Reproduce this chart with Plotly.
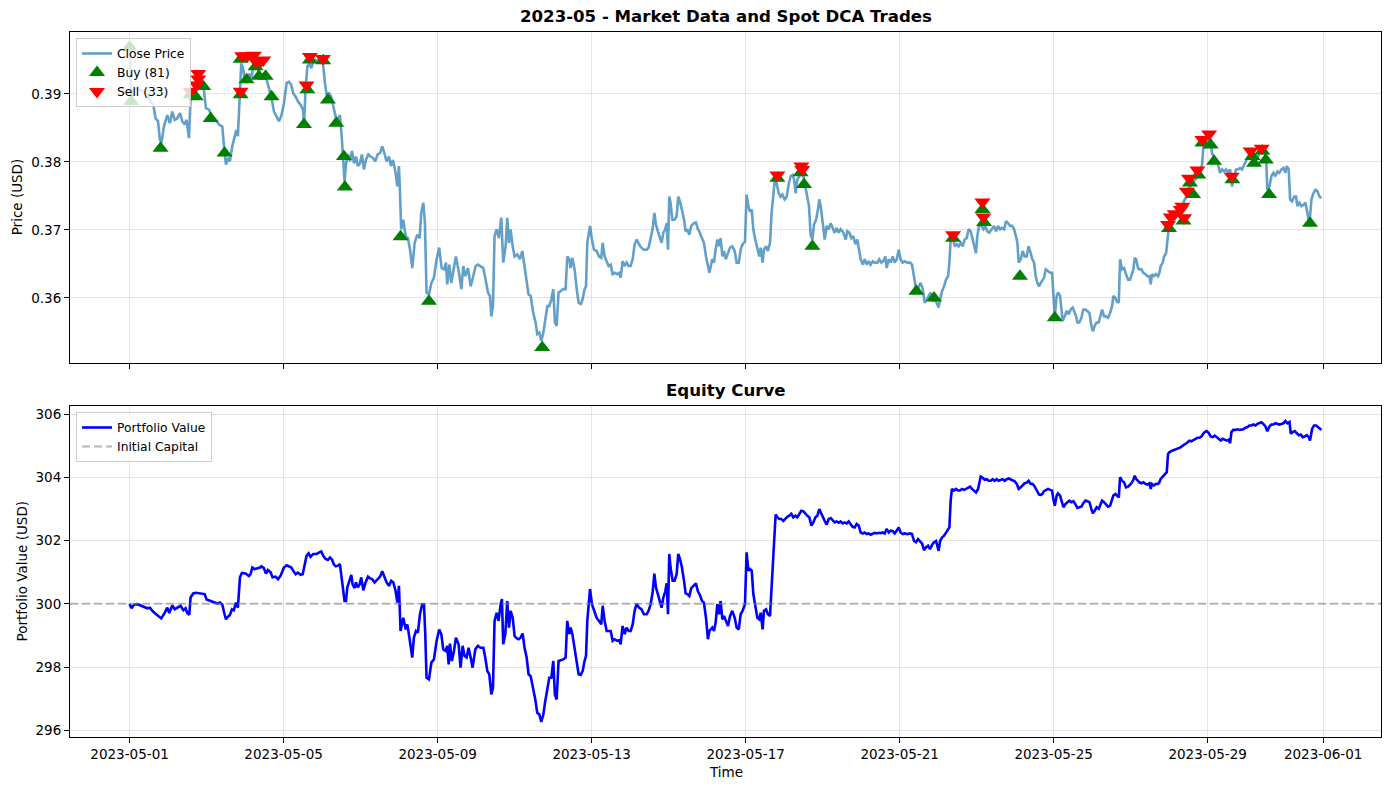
import pandas as pd
import plotly.graph_objects as go

START = pd.Timestamp("2023-05-01 00:00")

# ---- Close price (hours since start, USD) ----
PRICE_HOURS = [
    0, 1.2, 2.7, 4.8, 7.9, 11.0, 13.1, 14.8, 16.2, 17.7,
    18.9, 19.9, 21.4, 23.5, 25.1, 26.6, 28.1, 29.7, 31.4, 32.8,
    34.3, 35.5, 37.0, 38.0, 39.3, 40.5, 42.2, 44.3, 46.3, 47.6,
    49.5, 51.5, 53.6, 55.7, 57.8, 59.2, 60.1, 61.3, 62.5, 64.0,
    65.0, 66.5, 67.5, 68.6, 69.6, 70.7, 71.7, 73.0, 74.4, 75.9,
    77.5, 79.0, 80.2, 81.7, 83.7, 85.4, 86.9, 88.5, 90.0, 91.4,
    93.1, 94.5, 96.2, 97.9, 99.3, 100.8, 102.0, 103.5, 104.9, 106.6,
    108.1, 108.7, 109.7, 110.8, 112.0, 113.3, 114.5, 115.9, 117.4, 119.1,
    120.5, 121.8, 122.8, 124.3, 125.7, 127.0, 128.4, 129.9, 131.1, 132.2,
    133.2, 134.0, 134.9, 136.1, 137.4, 138.6, 139.9, 141.1, 142.3, 143.6,
    144.8, 146.1, 147.3, 148.8, 150.2, 151.7, 153.1, 154.6, 156.1, 157.5,
    158.8, 160.2, 161.7, 162.9, 164.2,
    165.8, 166.9, 167.9, 168.5, 169.3, 170.6, 172.1, 173.5, 174.8, 176.2,
    177.7, 179.3, 180.8, 181.8, 183.1, 184.1, 185.1, 186.6, 188.1, 189.7,
    191.4, 193.0, 194.5, 196.0, 197.2, 198.0, 199.3, 200.5, 201.8, 203.4,
    205.3, 206.8, 208.0, 209.2, 210.9, 212.6, 214.2, 215.7, 217.1, 218.8,
    220.5, 221.9, 223.4, 224.6, 225.5, 226.5, 227.5, 228.8, 230.2, 231.7,
    232.9, 234.4, 235.4, 236.5, 237.5, 238.8, 240.0, 241.7, 243.3, 244.8,
    246.2, 247.5, 248.7, 250.0, 251.6, 253.1, 254.1, 255.4, 256.6, 257.9,
    259.1, 260.4, 261.6, 262.9, 264.1, 265.1, 266.2, 267.4, 268.7, 270.3,
    271.8, 272.8, 274.1, 274.9, 276.0, 277.4, 278.7, 279.9, 281.2, 282.4,
    283.6, 284.5, 285.3, 287.0, 288.2, 289.5, 291.1, 292.6, 294.0, 294.9,
    296.1, 297.4, 298.6, 299.9, 301.1, 302.3, 304.0, 305.3, 306.1, 307.3,
    308.6, 309.8, 311.1, 312.3, 313.6, 314.8, 316.1, 317.5, 319.0, 320.6,
    322.3, 323.5, 324.8, 326.0, 327.1, 328.1, 329.3, 330.6, 331.6, 332.7,
    333.9, 334.8, 335.6, 336.4, 337.2, 338.3, 339.7, 341.0, 342.0, 343.1,
    344.3, 345.6, 346.6, 347.6, 348.9, 350.1, 351.8, 353.0, 354.3, 355.5,
    356.8, 358.0, 359.3, 360.5, 361.4,
    363.2, 364.3, 365.3, 366.4, 367.4, 368.4, 369.5, 370.5, 371.6, 373.0,
    374.3, 375.7, 377.2, 378.4, 379.7, 380.9, 382.1, 383.6, 384.6, 385.7,
    386.7, 387.8, 388.8, 390.0, 391.3, 392.5, 393.4, 394.6, 395.4, 396.7,
    397.9, 399.2, 400.2, 401.3, 402.1, 403.3, 404.6, 405.8, 406.9, 408.3,
    409.6, 411.0, 412.1, 413.3, 414.2, 415.2, 416.2, 417.5, 418.7, 420.0,
    421.2, 422.5, 423.5, 424.5, 425.6, 426.6, 427.9, 429.1, 429.9, 430.8,
    432.0, 433.3, 434.5, 435.8, 437.0, 438.3, 439.5, 440.7, 442.0, 443.2,
    444.9, 446.4, 447.4, 448.6, 449.9, 451.1, 452.4, 453.6, 454.9, 455.7,
    457.0, 458.2, 459.5, 460.7, 461.9, 463.2, 464.4, 466.1, 467.3, 468.6,
    469.8, 471.1, 471.9, 473.2, 474.4, 475.7, 476.9, 478.2, 479.4, 480.6,
    481.9, 483.1, 484.8, 486.5, 487.7, 489.0, 489.8, 490.6, 491.9, 493.1,
    494.4, 495.6, 496.9, 498.1, 499.3, 500.6, 501.8, 503.1, 504.3, 505.2,
    506.4, 507.7, 508.9, 510.2, 511.0, 511.8, 513.1, 514.3, 515.6, 516.8,
    518.0, 519.3, 520.5, 521.8, 523.0, 524.3, 525.5, 526.8, 527.6, 528.4,
    529.7, 530.9, 532.2, 533.4, 534.7, 535.9, 537.2, 538.8, 540.1, 541.3,
    542.6, 543.8, 545.1, 546.3, 547.6, 548.8, 550.1, 551.3, 552.5, 553.4,
    554.2, 555.5, 556.7, 557.9, 559.2, 560.4, 561.7,
    562.7, 563.8, 564.8, 565.9, 566.9, 567.9, 569.0, 570.0, 571.1, 572.5,
    573.8, 575.0, 575.8, 576.7, 577.9, 578.7, 580.0, 580.8, 581.6, 582.9,
    584.1, 585.4, 586.6, 587.9, 588.7, 590.0, 590.8, 592.0, 593.3, 594.5,
    595.8, 597.0, 598.3, 599.5, 600.4, 601.6, 602.8, 604.1, 605.3, 606.2,
    607.4, 608.7, 609.9, 611.2, 612.4, 613.2, 614.5, 615.3, 616.6, 617.4,
    618.6, 619.9, 621.1, 622.4, 623.6, 624.5, 625.7, 626.5, 627.4, 628.6,
    629.4, 630.7, 631.9, 633.2, 634.4, 635.7, 636.5, 637.3, 638.6, 639.8,
    641.1, 641.9, 642.7, 644.0, 644.8, 646.1, 646.9, 647.7, 649.0, 650.2,
    651.5, 652.7, 654.0, 655.2, 656.5, 657.7, 659.0, 660.2, 661.4, 662.7,
    663.9, 665.2, 666.4, 667.7, 668.5, 669.3, 670.2, 671.4, 672.7, 673.9,
    674.7, 676.0, 677.2, 678.5, 679.7, 681.0, 682.2, 683.5, 684.7, 686.0,
    687.2, 688.5, 689.7, 690.9, 692.2, 693.4, 694.7, 695.9, 697.2, 698.4,
    699.7, 700.9, 702.2, 703.4, 704.7, 705.9, 707.2, 708.4, 709.2, 710.5,
    711.7, 713.0, 714.2, 715.5, 716.7, 718.0, 719.2, 720.5, 721.3, 722.5,
    723.4, 724.6, 725.9, 727.1, 727.9, 729.2, 730.4, 731.7, 732.9, 734.2,
    735.4, 736.7, 737.9, 739.2, 740.4, 741.7, 742.9,
]
PRICE_CLOSE = [
    0.3969, 0.3889, 0.3906, 0.3908, 0.3904, 0.3899, 0.3889, 0.3884, 0.3864, 0.3860,
    0.3833, 0.3828, 0.3852, 0.3869, 0.3857, 0.3874, 0.3862, 0.3864, 0.3872, 0.3860,
    0.3855, 0.3862, 0.3835, 0.3891, 0.3896, 0.3908, 0.3921, 0.3916, 0.3906, 0.3879,
    0.3877, 0.3864, 0.3862, 0.3855, 0.3852, 0.3813, 0.3796, 0.3806, 0.3801, 0.3823,
    0.3833, 0.3847, 0.3838, 0.3896, 0.3945, 0.3938, 0.3921, 0.3918, 0.3930, 0.3923,
    0.3945, 0.3948, 0.3935, 0.3926, 0.3930, 0.3921, 0.3908, 0.3894, 0.3874, 0.3867,
    0.3860, 0.3867, 0.3886, 0.3916, 0.3918, 0.3913, 0.3901, 0.3896, 0.3889, 0.3884,
    0.3877, 0.3852, 0.3908, 0.3940, 0.3945, 0.3938, 0.3948, 0.3950, 0.3948, 0.3955,
    0.3945, 0.3916, 0.3899, 0.3901, 0.3896, 0.3882, 0.3867, 0.3862, 0.3869, 0.3838,
    0.3806, 0.3771, 0.3798, 0.3811, 0.3801, 0.3816, 0.3798, 0.3808, 0.3794, 0.3798,
    0.3811, 0.3789, 0.3803, 0.3811, 0.3808, 0.3806, 0.3801, 0.3811, 0.3813, 0.3823,
    0.3813, 0.3801, 0.3808, 0.3794, 0.3803,
    0.3784, 0.3764, 0.3794, 0.3759, 0.3701, 0.3715, 0.3691, 0.3688, 0.3671, 0.3644,
    0.3681, 0.3693, 0.3688, 0.3725, 0.3740, 0.3710, 0.3608, 0.3605, 0.3622, 0.3630,
    0.3657, 0.3674, 0.3644, 0.3642, 0.3652, 0.3620, 0.3649, 0.3622, 0.3637, 0.3661,
    0.3637, 0.3613, 0.3647, 0.3632, 0.3644, 0.3617, 0.3632, 0.3647, 0.3649, 0.3646,
    0.3644, 0.3627, 0.3608, 0.3603, 0.3573, 0.3588, 0.3691, 0.3701, 0.3688, 0.3718,
    0.3652, 0.3676, 0.3718, 0.3681, 0.3701, 0.3676, 0.3661, 0.3664, 0.3657, 0.3669,
    0.3644, 0.3622, 0.3605, 0.3603, 0.3578, 0.3564, 0.3547, 0.3549, 0.3537, 0.3549,
    0.3569, 0.3588, 0.3588, 0.3598, 0.3613, 0.3564, 0.3559, 0.3608, 0.3610, 0.3613,
    0.3613, 0.3661, 0.3657, 0.3644, 0.3659, 0.3642, 0.3613, 0.3593, 0.3591, 0.3598,
    0.3613, 0.3617, 0.3681, 0.3706, 0.3686, 0.3671, 0.3669, 0.3661, 0.3659, 0.3681,
    0.3661, 0.3654, 0.3647, 0.3649, 0.3635, 0.3637, 0.3635, 0.3637, 0.3630, 0.3654,
    0.3647, 0.3652, 0.3647, 0.3647, 0.3657, 0.3679, 0.3686, 0.3679, 0.3674, 0.3671,
    0.3671, 0.3674, 0.3688, 0.3701, 0.3725, 0.3708, 0.3698, 0.3686, 0.3681, 0.3696,
    0.3701, 0.3710, 0.3671, 0.3749, 0.3740, 0.3715, 0.3715, 0.3720, 0.3749, 0.3742,
    0.3730, 0.3715, 0.3698, 0.3701, 0.3693, 0.3706, 0.3710, 0.3711, 0.3701, 0.3696,
    0.3688, 0.3681, 0.3661, 0.3647, 0.3637,
    0.3657, 0.3652, 0.3671, 0.3686, 0.3676, 0.3688, 0.3661, 0.3669, 0.3657, 0.3666,
    0.3674, 0.3676, 0.3669, 0.3652, 0.3652, 0.3671, 0.3679, 0.3683, 0.3752, 0.3735,
    0.3727, 0.3730, 0.3701, 0.3686, 0.3671, 0.3661, 0.3674, 0.3652, 0.3671, 0.3676,
    0.3669, 0.3681, 0.3725, 0.3759, 0.3771, 0.3769, 0.3754, 0.3749, 0.3752, 0.3745,
    0.3749, 0.3769, 0.3779, 0.3781, 0.3774, 0.3754, 0.3774, 0.3779, 0.3784, 0.3779,
    0.3764, 0.3742, 0.3735, 0.3693, 0.3686, 0.3708, 0.3715, 0.3730, 0.3745, 0.3735,
    0.3710, 0.3686, 0.3706, 0.3701, 0.3710, 0.3701, 0.3696, 0.3703, 0.3696, 0.3701,
    0.3696, 0.3686, 0.3698, 0.3696, 0.3688, 0.3691, 0.3679, 0.3686, 0.3669, 0.3657,
    0.3649, 0.3657, 0.3649, 0.3654, 0.3649, 0.3654, 0.3652, 0.3652, 0.3657, 0.3652,
    0.3654, 0.3661, 0.3644, 0.3657, 0.3652, 0.3661, 0.3652, 0.3657, 0.3671, 0.3657,
    0.3652, 0.3654, 0.3652, 0.3652, 0.3649, 0.3632, 0.3617, 0.3608, 0.3617, 0.3622,
    0.3613, 0.3593, 0.3598, 0.3603, 0.3608, 0.3595, 0.3598, 0.3593, 0.3586, 0.3598,
    0.3610, 0.3617, 0.3627, 0.3632, 0.3652, 0.3686, 0.3691, 0.3676, 0.3679, 0.3676,
    0.3681, 0.3676, 0.3686, 0.3688, 0.3701, 0.3698, 0.3686, 0.3676, 0.3666, 0.3691,
    0.3710, 0.3706, 0.3701, 0.3706, 0.3698, 0.3696, 0.3701, 0.3706, 0.3698, 0.3706,
    0.3701, 0.3703, 0.3701, 0.3713, 0.3710, 0.3706, 0.3706, 0.3701, 0.3691, 0.3681,
    0.3652, 0.3657, 0.3669, 0.3661, 0.3661, 0.3676, 0.3666,
    0.3657, 0.3652, 0.3632, 0.3622, 0.3617, 0.3622, 0.3627, 0.3630, 0.3642, 0.3640,
    0.3637, 0.3637, 0.3603, 0.3573, 0.3603, 0.3608, 0.3603, 0.3588, 0.3566, 0.3573,
    0.3581, 0.3576, 0.3583, 0.3586, 0.3581, 0.3573, 0.3564, 0.3564, 0.3571, 0.3583,
    0.3583, 0.3581, 0.3578, 0.3559, 0.3551, 0.3559, 0.3564, 0.3564, 0.3573, 0.3583,
    0.3573, 0.3573, 0.3571, 0.3578, 0.3588, 0.3603, 0.3600, 0.3595, 0.3593, 0.3657,
    0.3642, 0.3644, 0.3635, 0.3627, 0.3627, 0.3635, 0.3642, 0.3659, 0.3657, 0.3644,
    0.3642, 0.3642, 0.3637, 0.3635, 0.3632, 0.3632, 0.3620, 0.3635, 0.3632, 0.3635,
    0.3632, 0.3637, 0.3647, 0.3652, 0.3661, 0.3666, 0.3681, 0.3701, 0.3706, 0.3710,
    0.3718, 0.3723, 0.3730, 0.3732, 0.3737, 0.3745, 0.3749, 0.3762, 0.3764, 0.3771,
    0.3774, 0.3776, 0.3779, 0.3789, 0.3796, 0.3823, 0.3820, 0.3828, 0.3838, 0.3830,
    0.3813, 0.3806, 0.3803, 0.3796, 0.3784, 0.3789, 0.3786, 0.3789, 0.3784, 0.3789,
    0.3764, 0.3779, 0.3789, 0.3789, 0.3791, 0.3789, 0.3796, 0.3803, 0.3808, 0.3813,
    0.3811, 0.3798, 0.3806, 0.3808, 0.3816, 0.3816, 0.3813, 0.3808, 0.3759, 0.3764,
    0.3779, 0.3784, 0.3779, 0.3786, 0.3784, 0.3789, 0.3791, 0.3784, 0.3794, 0.3789,
    0.3745, 0.3742, 0.3749, 0.3749, 0.3735, 0.3740, 0.3735, 0.3737, 0.3740, 0.3725,
    0.3708, 0.3745, 0.3754, 0.3759, 0.3757, 0.3749, 0.3747,
]

# ---- Trades ----
BUY_COUNT = 81
SELL_COUNT = 33
BUY_HOURS = [
    0, 1.0, 19.3, 38.0, 41.2, 45.9, 50.5, 59.2, 69.2, 69.2,
    72.9, 78.5, 80.6, 84.8, 88.5, 108.7, 110.8, 112.4, 120.7, 123.6,
    128.8, 133.6, 134.2, 168.9, 186.6, 257.2, 403.8, 418.3, 420.4, 425.6,
    490.4, 501.4, 513.3, 531.6, 532.6, 555.0, 576.7, 647.9, 656.9, 661.0,
    662.9, 666.2, 668.7, 673.9, 676.0, 687.4, 699.9, 700.9, 706.1, 708.2,
    710.3, 735.8,
]
BUY_PRICES = [
    0.3969, 0.3889, 0.3820, 0.3899, 0.3896, 0.3911, 0.3864, 0.3813, 0.3951, 0.3899,
    0.3921, 0.3940, 0.3926, 0.3926, 0.3896, 0.3855, 0.3906, 0.3950, 0.3949, 0.3891,
    0.3857, 0.3808, 0.3763, 0.3690, 0.3595, 0.3527, 0.3776, 0.3784, 0.3767, 0.3676,
    0.3610, 0.3600, 0.3688, 0.3730, 0.3711, 0.3632, 0.3571, 0.3702, 0.3713, 0.3769,
    0.3752, 0.3781, 0.3828, 0.3825, 0.3801, 0.3774, 0.3808, 0.3798, 0.3816, 0.3803,
    0.3752, 0.3710,
]
SELL_HOURS = [
    38.0, 41.8, 42.8, 42.8, 69.2, 70.2, 73.4, 77.5, 78.5, 81.7,
    83.3, 110.3, 112.4, 120.5, 403.8, 418.7, 419.3, 513.3, 531.6, 532.2,
    647.3, 649.0, 651.5, 655.2, 656.2, 657.3, 659.0, 660.4, 665.6, 668.7,
    672.9, 687.0, 698.8, 705.7,
]
SELL_PRICES = [
    0.3904, 0.3913, 0.3930, 0.3922, 0.3904, 0.3956, 0.3956, 0.3957, 0.3948, 0.3948,
    0.3950, 0.3913, 0.3955, 0.3952, 0.3781, 0.3794, 0.3789, 0.3693, 0.3741, 0.3719,
    0.3708, 0.3719, 0.3724, 0.3730, 0.3735, 0.3718, 0.3757, 0.3776, 0.3788, 0.3833,
    0.3841, 0.3779, 0.3816, 0.3820,
]

# ---- Equity curve ----
INITIAL_CAPITAL = 300.0
EQUITY_HOURS = [
    0, 1.2, 2.7, 4.8, 6.9, 8.9, 11.0, 12.7, 14.1, 16.2,
    18.3, 19.7, 21.4, 23.5, 24.7, 26.6, 28.1, 29.7, 31.8, 33.5,
    34.9, 35.9, 37.2, 38.0, 39.7, 41.2, 44.3, 46.8, 48.0, 50.5,
    53.0, 54.7, 56.3, 57.8, 59.2, 60.1, 61.3, 62.5, 63.8, 65.0,
    66.3, 67.5, 68.8, 70.0, 72.3, 74.4, 75.4, 76.5, 77.9, 79.6,
    81.3, 82.1, 83.7, 85.0, 86.2, 87.9, 89.1, 91.0, 92.5, 94.1,
    96.2, 97.9, 99.3, 100.8, 102.0, 103.5, 104.9, 106.6, 107.9, 109.1,
    110.3, 111.6, 112.8, 114.5, 116.6, 118.0, 119.5, 120.7, 122.2, 123.6,
    124.9, 126.3, 127.4, 128.6, 129.9, 131.1, 132.2, 133.2, 134.0, 134.9,
    135.7, 137.0, 138.2, 139.0, 140.3, 141.1, 142.3, 143.4, 144.4, 145.7,
    147.1, 148.6, 149.8, 151.3, 152.7, 154.4, 156.1, 157.5, 158.8, 160.2,
    161.7, 163.1, 164.4,
    165.8, 166.9, 167.9, 168.9, 170.6, 172.1, 173.1, 174.1, 175.2, 176.2,
    177.2, 178.5, 179.7, 181.0, 182.4, 183.5, 184.3, 185.1, 186.6, 188.1,
    189.7, 191.4, 193.0, 194.3, 195.5, 197.0, 198.0, 198.9, 199.7, 200.9,
    202.2, 203.4, 205.1, 206.3, 207.6, 208.8, 210.1, 211.3, 212.6, 213.8,
    215.5, 217.1, 218.8, 220.5, 221.7, 223.0, 224.2, 225.5, 226.5, 227.5,
    228.8, 230.0, 231.3, 232.1, 232.9, 234.2, 235.4, 236.5, 237.5, 238.8,
    240.0, 241.2, 242.5, 243.7, 245.0, 246.2, 247.5, 248.7, 250.0, 251.6,
    252.9, 254.1, 255.4, 256.6, 257.9, 259.1, 260.4, 261.6, 262.9, 264.1,
    265.1, 266.2, 267.4, 268.7, 270.3, 271.8, 272.8, 274.1, 274.9, 276.0,
    277.4, 278.7, 279.9, 281.2, 282.4, 283.6, 284.5, 285.3, 287.0, 288.2,
    289.5, 291.1, 292.6, 294.0, 294.9, 296.1, 297.4, 298.6, 299.9, 301.1,
    302.3, 304.0, 305.3, 306.1, 307.3, 308.6, 309.8, 311.1, 312.3, 313.6,
    314.8, 316.1, 317.5, 319.0, 320.6, 322.3, 323.5, 324.8, 326.0, 327.1,
    328.1, 329.3, 330.6, 331.6, 332.7, 333.9, 334.8, 335.6, 336.4, 337.2,
    338.5, 339.7, 341.0, 342.0, 343.1, 344.3, 345.6, 346.6, 347.6, 348.9,
    350.1, 351.8, 353.0, 354.3, 355.5, 356.8, 358.0, 359.3, 360.5, 361.4,
    363.2, 364.3, 365.3, 366.4, 367.4, 368.4, 369.5, 370.5, 371.6, 373.0,
    374.3, 375.7, 377.2, 378.4, 379.7, 380.9, 382.1, 383.6, 384.6, 385.7,
    386.7, 387.8, 388.8, 390.0, 391.3, 392.5, 393.4, 394.6, 395.4, 396.7,
    397.9, 399.2, 400.2, 401.3, 402.1, 402.7, 403.8, 405.0, 406.3, 407.5,
    408.7, 410.0, 411.2, 412.5, 413.7, 415.0, 416.2, 417.5, 418.7, 420.0,
    421.2, 422.5, 423.7, 425.0, 426.2, 427.5, 428.7, 429.9, 430.8, 432.0,
    433.3, 434.5, 435.8, 437.0, 438.3, 439.5, 440.7, 442.0, 443.2, 444.5,
    445.7, 447.0, 448.2, 449.5, 450.7, 452.0, 453.2, 454.5, 455.7, 457.0,
    458.2, 459.5, 460.7, 461.9, 463.2, 464.4, 465.7, 466.9, 468.2, 469.4,
    470.7, 471.9, 473.2, 474.4, 475.7, 476.9, 478.2, 479.4, 480.6, 481.9,
    483.1, 484.8, 486.5, 487.7, 489.0, 490.2, 491.5, 492.7, 494.0, 495.2,
    496.4, 497.7, 498.9, 500.2, 501.4, 502.7, 503.5, 504.3, 505.2, 506.4,
    507.7, 508.9, 510.2, 511.0, 511.8, 512.6, 513.9, 515.1, 516.4, 517.6,
    518.9, 520.1, 521.4, 522.6, 523.9, 525.1, 526.4, 527.6, 528.9, 529.7,
    530.5, 531.8, 533.0, 534.3, 535.5, 536.8, 538.0, 539.2, 540.5, 541.7,
    543.0, 544.2, 545.5, 546.7, 548.0, 549.2, 550.5, 551.7, 553.0, 554.2,
    555.5, 556.7, 557.9, 559.2, 560.4, 561.7,
    562.7, 563.8, 564.8, 565.9, 566.9, 567.9, 569.0, 570.0, 571.1, 572.5,
    573.8, 575.0, 575.8, 576.7, 577.9, 578.7, 580.0, 580.8, 582.1, 583.3,
    584.6, 585.8, 587.1, 588.3, 589.5, 590.8, 592.0, 593.3, 594.5, 595.8,
    597.0, 598.3, 599.5, 600.4, 601.6, 602.8, 604.1, 605.3, 606.2, 607.4,
    608.7, 609.9, 611.2, 612.4, 613.2, 614.5, 615.3, 616.6, 617.4, 618.6,
    619.9, 621.1, 622.4, 623.6, 624.5, 625.7, 626.5, 627.4, 628.6, 629.4,
    630.7, 631.9, 633.2, 634.4, 635.7, 636.5, 637.3, 638.6, 639.8, 641.1,
    641.9, 642.7, 644.0, 645.2, 646.5, 647.3, 648.1, 649.4, 650.6, 651.9,
    653.1, 654.4, 655.6, 656.9, 658.1, 659.4, 660.6, 661.9, 663.1, 664.4,
    665.6, 666.8, 668.1, 669.3, 670.2, 671.4, 672.7, 673.9, 675.2, 676.4,
    677.7, 678.9, 680.2, 681.4, 682.6, 683.9, 685.1, 686.0, 686.8, 688.0,
    689.3, 690.5, 691.8, 693.0, 694.3, 695.5, 696.8, 698.0, 699.3, 700.5,
    701.8, 703.0, 704.3, 705.5, 706.7, 708.0, 709.2, 710.5, 711.7, 713.0,
    714.2, 715.5, 716.7, 718.0, 719.2, 720.5, 721.7, 723.0, 723.8, 725.0,
    726.3, 727.5, 728.8, 730.0, 731.3, 732.5, 733.8, 735.0, 735.8, 737.1,
    738.3, 739.6, 740.8, 742.1, 742.9,
]
EQUITY_VALUE = [
    300.00, 299.86, 299.97, 299.99, 299.95, 299.90, 299.86, 299.88, 299.78, 299.69,
    299.59, 299.54, 299.67, 299.88, 299.71, 299.95, 299.83, 299.88, 299.94, 299.80,
    299.86, 299.72, 299.65, 300.20, 300.33, 300.35, 300.33, 300.31, 300.14, 300.09,
    300.05, 300.01, 300.04, 299.97, 299.67, 299.51, 299.59, 299.65, 299.83, 299.80,
    300.04, 299.88, 300.84, 300.98, 300.96, 300.88, 300.94, 301.15, 301.10, 301.13,
    301.15, 301.19, 301.13, 300.96, 301.07, 301.00, 300.84, 300.86, 300.78, 300.89,
    301.15, 301.22, 301.19, 301.15, 301.05, 300.94, 300.99, 300.92, 300.94, 301.21,
    301.52, 301.60, 301.49, 301.58, 301.58, 301.62, 301.66, 301.52, 301.42, 301.39,
    301.47, 301.39, 301.24, 301.19, 301.21, 301.26, 300.73, 300.31, 300.09, 300.09,
    300.52, 300.73, 300.92, 300.62, 300.50, 300.68, 300.52, 300.62, 300.84, 300.43,
    300.68, 300.86, 300.81, 300.78, 300.68, 300.77, 300.86, 301.03, 300.84, 300.68,
    300.57, 300.73, 300.68,
    300.41, 300.04, 300.57, 299.14, 299.56, 299.19, 299.35, 299.04, 298.61, 298.30,
    298.93, 299.14, 299.09, 299.67, 299.99, 299.99, 299.04, 297.66, 297.61, 298.14,
    298.24, 298.83, 299.19, 299.04, 298.56, 298.51, 298.67, 298.08, 298.74, 298.19,
    298.51, 298.93, 298.72, 297.98, 298.67, 298.35, 298.30, 298.61, 298.30, 297.98,
    298.56, 298.67, 298.61, 298.61, 298.30, 297.87, 297.77, 297.13, 297.34, 299.46,
    299.72, 299.46, 299.99, 300.15, 298.72, 299.04, 300.09, 299.25, 299.78, 299.56,
    298.98, 298.91, 298.88, 298.93, 299.06, 298.61, 298.30, 297.77, 297.71, 297.34,
    296.97, 296.55, 296.50, 296.26, 296.50, 296.92, 297.34, 297.66, 297.66, 298.19,
    297.13, 296.97, 298.19, 298.21, 298.24, 298.30, 299.46, 299.04, 299.25, 299.04,
    298.61, 298.14, 297.77, 297.75, 297.87, 298.19, 298.35, 299.46, 300.47, 299.99,
    299.78, 299.56, 299.46, 299.35, 299.94, 299.46, 299.14, 299.14, 299.14, 298.83,
    298.88, 298.83, 298.85, 298.72, 299.30, 299.04, 299.25, 299.14, 299.14, 299.35,
    299.78, 300.01, 299.88, 299.83, 299.67, 299.67, 299.78, 299.99, 300.36, 300.96,
    300.52, 300.31, 300.09, 299.88, 300.20, 300.39, 300.65, 299.67, 301.58, 301.15,
    300.73, 300.73, 300.94, 301.58, 301.42, 301.15, 300.73, 300.33, 300.31, 300.25,
    300.50, 300.60, 300.65, 300.39, 300.28, 300.09, 300.04, 299.56, 298.88, 299.14,
    299.25, 299.14, 299.41, 299.99, 299.67, 300.09, 299.51, 299.62, 299.46, 299.30,
    299.62, 299.78, 299.56, 299.25, 299.19, 299.67, 299.78, 299.99, 301.63, 301.05,
    301.10, 301.05, 300.31, 299.94, 299.56, 299.51, 299.72, 299.19, 299.78, 299.83,
    299.67, 299.62, 300.52, 301.47, 302.21, 302.83, 302.74, 302.69, 302.69, 302.63,
    302.69, 302.76, 302.79, 302.85, 302.74, 302.79, 302.74, 302.87, 302.95, 302.93,
    302.85, 302.79, 302.74, 302.48, 302.58, 302.74, 302.79, 303.00, 302.90, 302.74,
    302.63, 302.51, 302.69, 302.72, 302.63, 302.58, 302.61, 302.57, 302.61, 302.55,
    302.58, 302.55, 302.61, 302.53, 302.44, 302.42, 302.53, 302.48, 302.26, 302.23,
    302.26, 302.21, 302.23, 302.19, 302.21, 302.25, 302.23, 302.25, 302.24, 302.26,
    302.23, 302.37, 302.26, 302.32, 302.30, 302.23, 302.32, 302.42, 302.26, 302.21,
    302.23, 302.21, 302.23, 302.21, 301.99, 301.95, 302.05, 301.99, 301.91, 301.70,
    301.79, 301.84, 301.73, 301.87, 301.95, 301.99, 301.79, 301.68, 301.99, 302.10,
    302.16, 302.26, 302.37, 302.42, 303.27, 303.64, 303.59, 303.64, 303.59, 303.59,
    303.64, 303.61, 303.64, 303.67, 303.71, 303.64, 303.59, 303.53, 303.64, 303.80,
    304.03, 303.99, 303.93, 303.95, 303.90, 303.90, 303.95, 303.90, 303.95, 303.90,
    303.93, 303.95, 303.90, 303.95, 303.97, 303.94, 303.93, 303.88, 303.80, 303.64,
    303.69, 303.75, 303.82, 303.84, 303.90, 303.80,
    303.80, 303.75, 303.64, 303.53, 303.46, 303.45, 303.48, 303.57, 303.61, 303.64,
    303.61, 303.59, 303.32, 303.11, 303.43, 303.50, 303.43, 303.27, 303.06, 303.16,
    303.22, 303.27, 303.22, 303.25, 303.16, 303.04, 303.06, 303.08, 303.19, 303.27,
    303.25, 303.22, 303.01, 302.87, 302.95, 303.06, 303.01, 303.14, 303.27, 303.22,
    303.14, 303.08, 303.11, 303.27, 303.43, 303.48, 303.43, 303.37, 304.01, 303.90,
    303.85, 303.69, 303.71, 303.78, 303.82, 303.93, 304.06, 303.96, 303.90, 303.85,
    303.82, 303.85, 303.80, 303.78, 303.82, 303.64, 303.80, 303.75, 303.80, 303.80,
    303.85, 303.96, 304.03, 304.09, 304.17, 304.75, 304.80, 304.84, 304.86, 304.88,
    304.91, 304.94, 304.98, 305.02, 305.07, 305.11, 305.17, 305.15, 305.19, 305.23,
    305.26, 305.26, 305.30, 305.39, 305.44, 305.47, 305.41, 305.30, 305.28, 305.33,
    305.28, 305.23, 305.17, 305.23, 305.20, 305.17, 305.20, 305.09, 305.44, 305.51,
    305.51, 305.53, 305.51, 305.51, 305.53, 305.58, 305.60, 305.65, 305.65, 305.68,
    305.65, 305.70, 305.72, 305.75, 305.70, 305.62, 305.47, 305.62, 305.68, 305.68,
    305.72, 305.70, 305.68, 305.70, 305.72, 305.79, 305.72, 305.76, 305.39, 305.44,
    305.47, 305.41, 305.34, 305.36, 305.28, 305.30, 305.34, 305.28, 305.17, 305.54,
    305.65, 305.65, 305.60, 305.54, 305.51,
]

# ---- Axis ticks ----
TICK_DATES = ["2023-05-01", "2023-05-05", "2023-05-09", "2023-05-13", "2023-05-17",
              "2023-05-21", "2023-05-25", "2023-05-29", "2023-06-01"]
PRICE_TICKS = [0.36, 0.37, 0.38, 0.39]
EQUITY_TICKS = [296, 298, 300, 302, 304, 306]

assert len(PRICE_HOURS) == len(PRICE_CLOSE), (len(PRICE_HOURS), len(PRICE_CLOSE))
assert len(EQUITY_HOURS) == len(EQUITY_VALUE), (len(EQUITY_HOURS), len(EQUITY_VALUE))
assert len(BUY_HOURS) == len(BUY_PRICES)
assert len(SELL_HOURS) == len(SELL_PRICES)


def to_time(hours):
    return [START + pd.Timedelta(hours=h) for h in hours]


price_t = to_time(PRICE_HOURS)
equity_t = to_time(EQUITY_HOURS)
buy_t = to_time(BUY_HOURS)
sell_t = to_time(SELL_HOURS)

t_min, t_max = min(price_t), max(price_t)
pad = (t_max - t_min) * 0.05
x_range = [t_min - pad, t_max + pad]

p_lo = min(min(PRICE_CLOSE), min(BUY_PRICES), min(SELL_PRICES))
p_hi = max(max(PRICE_CLOSE), max(BUY_PRICES), max(SELL_PRICES))
p_pad = (p_hi - p_lo) * 0.05
e_lo, e_hi = min(EQUITY_VALUE), max(EQUITY_VALUE)
e_pad = (e_hi - e_lo) * 0.05

FONT = "DejaVu Sans"
GRID = "rgba(176,176,176,0.32)"
TICK_SIZE = 13.5

fig = go.Figure()

fig.add_trace(go.Scatter(
    x=price_t, y=PRICE_CLOSE, mode="lines", name="Close Price",
    line=dict(color="rgba(31,119,180,0.7)", width=2.6),
    xaxis="x", yaxis="y", legend="legend",
))
fig.add_trace(go.Scatter(
    x=buy_t, y=BUY_PRICES, mode="markers", name=f"Buy ({BUY_COUNT})",
    marker=dict(symbol="triangle-up", color="#008000", size=14, line=dict(width=0)),
    xaxis="x", yaxis="y", legend="legend",
))
fig.add_trace(go.Scatter(
    x=sell_t, y=SELL_PRICES, mode="markers", name=f"Sell ({SELL_COUNT})",
    marker=dict(symbol="triangle-down", color="#ff0000", size=14, line=dict(width=0)),
    xaxis="x", yaxis="y", legend="legend",
))
fig.add_trace(go.Scatter(
    x=equity_t, y=EQUITY_VALUE, mode="lines", name="Portfolio Value",
    line=dict(color="#0000ff", width=2.6),
    xaxis="x2", yaxis="y2", legend="legend2",
))
fig.add_trace(go.Scatter(
    x=x_range, y=[INITIAL_CAPITAL, INITIAL_CAPITAL], mode="lines", name="Initial Capital",
    line=dict(color="rgba(128,128,128,0.55)", width=2, dash="8px,4px"),
    xaxis="x2", yaxis="y2", legend="legend2",
))

axis_common = dict(
    showline=True, mirror=True, linecolor="black", linewidth=1,
    ticks="outside", ticklen=5, tickcolor="black", tickwidth=1,
    showgrid=True, gridcolor=GRID, gridwidth=1, zeroline=False,
    tickfont=dict(family=FONT, size=TICK_SIZE, color="black"),
)

tick_vals = [pd.Timestamp(d) for d in TICK_DATES]

TOP_DOMAIN = [0.531, 1.0]
BOT_DOMAIN = [0.0, 0.4695]

legend_common = dict(
    xanchor="left", yanchor="top",
    bgcolor="rgba(255,255,255,0.8)", bordercolor="#cccccc", borderwidth=1,
    font=dict(family=FONT, size=12.3), tracegroupgap=0, itemwidth=30,
)

fig.update_layout(
    width=1389, height=790,
    margin=dict(l=70, r=8, t=32, b=53),
    paper_bgcolor="white", plot_bgcolor="white",
    font=dict(family=FONT, size=13, color="black"),
    xaxis=dict(axis_common, domain=[0, 1], anchor="y", range=x_range,
               tickvals=tick_vals, ticktext=TICK_DATES, showticklabels=False),
    yaxis=dict(axis_common, domain=TOP_DOMAIN, anchor="x",
               range=[p_lo - p_pad, p_hi + p_pad], tickvals=PRICE_TICKS, tickformat=".2f"),
    xaxis2=dict(axis_common, domain=[0, 1], anchor="y2", range=x_range, matches="x",
                tickvals=tick_vals, ticktext=TICK_DATES),
    yaxis2=dict(axis_common, domain=BOT_DOMAIN, anchor="x2",
                range=[e_lo - e_pad, e_hi + e_pad], tickvals=EQUITY_TICKS),
    legend=dict(legend_common, x=0.0046, y=0.9915),
    legend2=dict(legend_common, x=0.0046, y=0.461),
    showlegend=True,
)

annotations = [
    dict(text="<b>2023-05 - Market Data and Spot DCA Trades</b>", xref="paper", yref="paper",
         x=0.5, y=TOP_DOMAIN[1], xanchor="center", yanchor="bottom", yshift=4,
         showarrow=False, font=dict(family=FONT, size=16.6, color="black")),
    dict(text="<b>Equity Curve</b>", xref="paper", yref="paper",
         x=0.5, y=BOT_DOMAIN[1], xanchor="center", yanchor="bottom", yshift=4,
         showarrow=False, font=dict(family=FONT, size=16.6, color="black")),
    dict(text="Time", xref="paper", yref="paper", x=0.5, y=0, xanchor="center",
         yanchor="middle", yshift=-35, showarrow=False,
         font=dict(family=FONT, size=TICK_SIZE, color="black")),
    dict(text="Price (USD)", xref="paper", yref="paper", x=0,
         y=(TOP_DOMAIN[0] + TOP_DOMAIN[1]) / 2, xanchor="center", yanchor="middle",
         xshift=-53, textangle=-90, showarrow=False,
         font=dict(family=FONT, size=TICK_SIZE, color="black")),
    dict(text="Portfolio Value (USD)", xref="paper", yref="paper", x=0,
         y=(BOT_DOMAIN[0] + BOT_DOMAIN[1]) / 2, xanchor="center", yanchor="middle",
         xshift=-48, textangle=-90, showarrow=False,
         font=dict(family=FONT, size=TICK_SIZE, color="black")),
]
fig.update_layout(annotations=annotations)

fig.write_html("out.html")
